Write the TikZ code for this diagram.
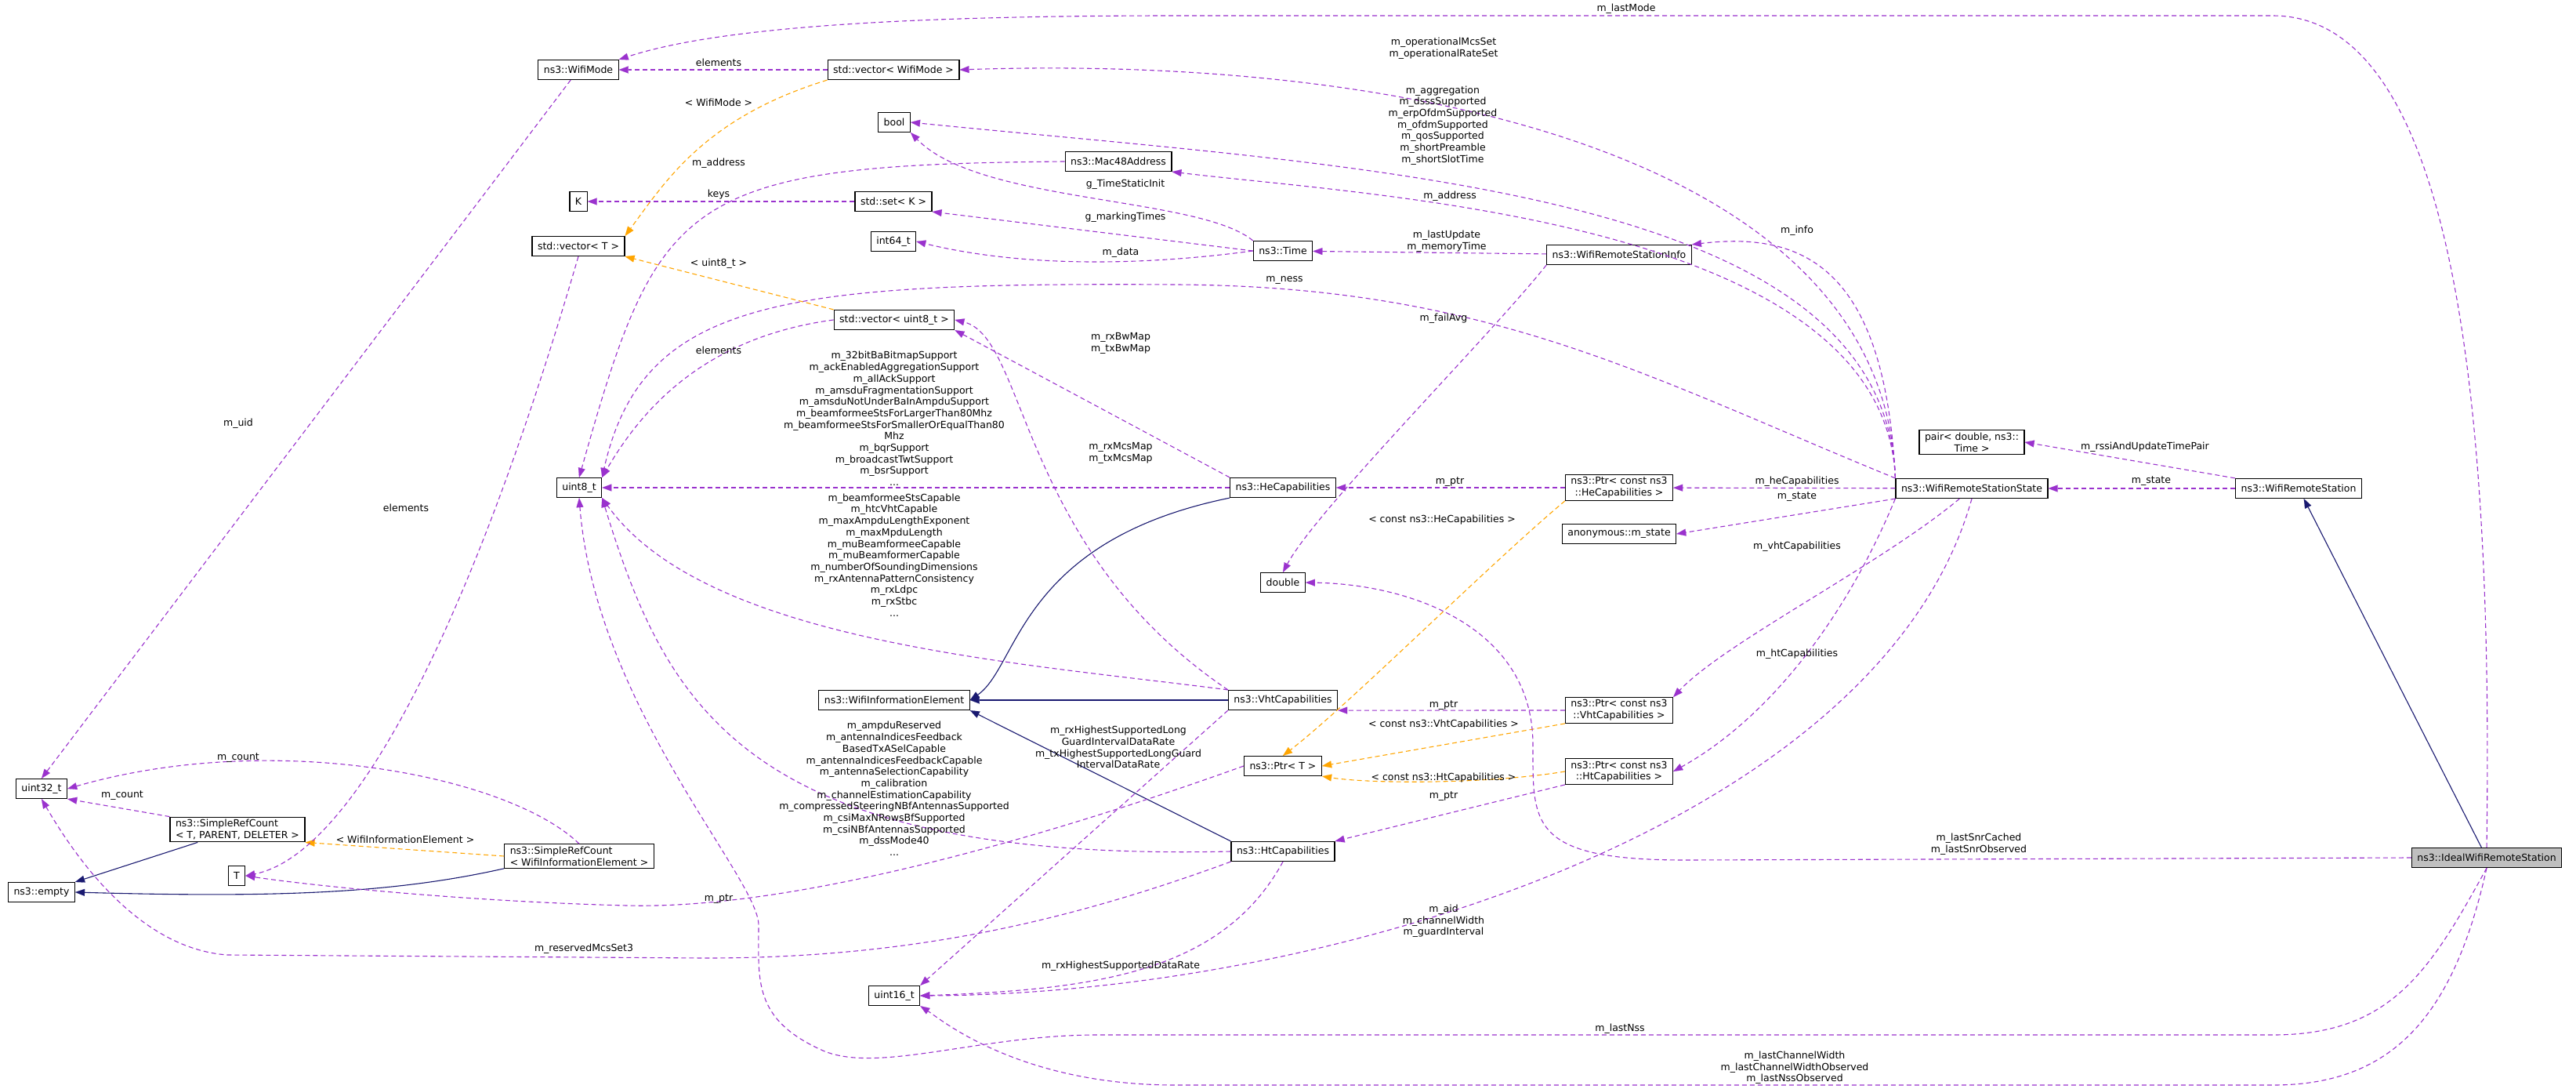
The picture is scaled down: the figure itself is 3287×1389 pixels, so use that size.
\documentclass[tikz,border=0pt]{standalone}
\usepackage{fontspec}
\setmainfont{DejaVu Sans}
\usepackage{tikz}
\usetikzlibrary{arrows.meta,positioning}
\definecolor{memberc}{HTML}{9A32CD}
\definecolor{tmplc}{HTML}{FFA500}
\definecolor{inheritc}{HTML}{191970}
\tikzstyle{cls} = [rectangle, draw, line width=1.2pt, inner xsep=7pt, inner ysep=3pt, minimum height=25pt, font=\fontsize{12.5}{14.7}\selectfont, align=center]
\tikzstyle{clsl} = [cls, align=left]
\tikzstyle{focus} = [cls, fill=black!25]
\tikzstyle{lbl} = [inner sep=0pt, font=\fontsize{12.5}{14.7}\selectfont, align=center]
\tikzstyle{member} = [draw=memberc, dashed, dash pattern=on 6pt off 4pt, line width=1.1pt, -{Stealth[length=12pt,width=9pt,inset=0pt,line width=0.1pt]}]
\tikzstyle{tmpl} = [member, draw=tmplc]
\tikzstyle{inherit} = [draw=inheritc, line width=1.1pt, -{Stealth[length=12pt,width=9pt,inset=0pt,line width=0.1pt]}]

\begin{document}
\begin{tikzpicture}[x=1pt, y=-1pt]
        \useasboundingbox (0,0) rectangle (3287,1389);
        % classes
        \node [cls] (wifimode) at (738,89) {ns3::WifiMode};
        \node [cls] (vecmode) at (1140,89) {std::vector< WifiMode >};
        \node [cls] (bool) at (1141,156) {bool};
        \node [cls] (mac) at (1427,206) {ns3::Mac48Address};
        \node [cls] (K) at (738,257) {K};
        \node [cls] (setk) at (1140,257) {std::set< K >};
        \node [cls] (vect) at (738,314) {std::vector< T >};
        \node [cls] (int64) at (1140,308) {int64\_t};
        \node [cls] (time) at (1637,320) {ns3::Time};
        \node [cls] (info) at (2066,325) {ns3::WifiRemoteStationInfo};
        \node [cls] (vecu8) at (1141,408) {std::vector< uint8\_t >};
        \node [cls] (uint8) at (739,622) {uint8\_t};
        \node [cls] (hecap) at (1637,622) {ns3::HeCapabilities};
        \node [cls] (ptrhe) at (2066,622) {ns3::Ptr< const ns3\\::HeCapabilities >};
        \node [cls] (anon) at (2066,681) {anonymous::m\_state};
        \node [cls] (state) at (2516,623) {ns3::WifiRemoteStationState};
        \node [cls] (pair) at (2516,564) {pair< double, ns3::\\Time >};
        \node [cls] (station) at (2933,623) {ns3::WifiRemoteStation};
        \node [focus] (ideal) at (3173,1094) {ns3::IdealWifiRemoteStation};
        \node [cls] (double) at (1637,743) {double};
        \node [cls] (wie) at (1141,893) {ns3::WifiInformationElement};
        \node [cls] (vhtcap) at (1637,893) {ns3::VhtCapabilities};
        \node [cls] (ptrvht) at (2066,906) {ns3::Ptr< const ns3\\::VhtCapabilities >};
        \node [cls] (ptrt) at (1637,977) {ns3::Ptr< T >};
        \node [cls] (ptrht) at (2066,984) {ns3::Ptr< const ns3\\::HtCapabilities >};
        \node [cls] (htcap) at (1637,1086) {ns3::HtCapabilities};
        \node [cls] (uint16) at (1141,1270) {uint16\_t};
        \node [cls] (uint32) at (53,1006) {uint32\_t};
        \node [clsl] (srcgen) at (303,1058) {ns3::SimpleRefCount\\< T, PARENT, DELETER >};
        \node [cls] (empty) at (53,1138) {ns3::empty};
        \node [cls] (T) at (302,1117) {T};
        \node [clsl] (srcwie) at (739,1092) {ns3::SimpleRefCount\\< WifiInformationElement >};

        % inheritance
        \path [inherit] (ideal) -- (station);
        \path [inherit] (hecap.south west) .. controls (1300,690) and (1300,850) .. (wie.east);
        \path [inherit] (vhtcap) -- (wie);
        \path [inherit] (htcap.north west) -- (wie.south east);
        \path [inherit] (srcgen) -- (empty.north east);
        \path [inherit] (srcwie.south west) .. controls (500,1140) and (350,1145) .. (empty.east);

        % templates
        \path [tmpl] (vecmode.south west) .. controls (900,150) and (850,230) .. (vect.north east);
        \path [tmpl] (vecu8.north west) -- (vect.south east);
        \path [tmpl] (ptrhe.south west) .. controls (1900,720) and (1720,900) .. (ptrt.north);
        \path [tmpl] (ptrvht.south west) -- (ptrt.east);
        \path [tmpl] (ptrht.west) .. controls (1900,1000) and (1750,1000) .. (ptrt.south east);
        \path [tmpl] (srcwie.west) -- (srcgen.south east);
        \node [lbl] (l-wifimode) at (917,131) {< WifiMode >};
        \node [lbl] (l-u8t) at (917,336) {< uint8\_t >};
        \node [lbl] (l-ptrhe) at (1840,663) {< const ns3::HeCapabilities >};
        \node [lbl] (l-ptrvht) at (1842,924) {< const ns3::VhtCapabilities >};
        \node [lbl] (l-ptrht) at (1842,992) {< const ns3::HtCapabilities >};
        \node [lbl] (l-srcwie) at (517,1071) {< WifiInformationElement >};

        % members
        \path [member] (ideal.north) .. controls (3180,600) and (3150,20) .. (2900,20) -- (1500,20) .. controls (1100,20) and (900,40) .. (wifimode.north east);
        \path [member] (state.north west) .. controls (2405,200) and (1800,70) .. (vecmode.east);
        \path [member] (vecmode) -- (wifimode);
        \path [member] (state.north west) .. controls (2405,240) and (1750,215) .. (bool.east);
        \path [member] (mac.west) .. controls (870,210) and (840,250) .. (uint8.north);
        \path [member] (state.north west) .. controls (2405,280) and (1750,250) .. (mac.south east);
        \path [member] (setk) -- (K);
        \path [member] (time.north west) .. controls (1530,250) and (1250,260) .. (bool.south east);
        \path [member] (time.west) -- (setk.south east);
        \path [member] (time.west) .. controls (1450,340) and (1300,340) .. (int64.east);
        \path [member] (info) -- (time);
        \path [member] (state.north west) .. controls (2405,340) and (2300,295) .. (info.north east);
        \path [member] (state.north west) .. controls (2100,480) and (1900,365) .. (1500,363) .. controls (1000,360) and (820,380) .. (uint8.north east);
        \path [member] (vecu8.west) .. controls (900,430) and (820,520) .. (uint8.north east);
        \path [member] (hecap.north west) -- (vecu8.south east);
        \path [member] (vhtcap.north west) .. controls (1300,700) and (1310,430) .. (vecu8.east);
        \path [member] (hecap) -- (uint8);
        \path [member] (info.south west) .. controls (1900,430) and (1680,650) .. (double.north);
        \path [member] (ptrhe) -- (hecap);
        \path [member] (state) -- (ptrhe);
        \path [member] (state.south west) -- (anon.east);
        \path [member] (station.north west) -- (pair.east);
        \path [member] (station) -- (state);
        \path [member] (vhtcap.north west) .. controls (1300,845) and (900,820) .. (uint8.south east);
        \path [member] (htcap.west) .. controls (950,1100) and (850,900) .. (uint8.south east);
        \path [member] (ptrvht.west) -- (vhtcap.south east);
        \path [member] (ptrht.south west) -- (htcap.north east);
        \path [member] (state) .. controls (2400,720) and (2200,820) .. (ptrvht.north east);
        \path [member] (state.south west) .. controls (2350,800) and (2250,920) .. (ptrht.east);
        \path [member] (vhtcap.south west) -- (uint16.north east);
        \path [member] (htcap.south) .. controls (1560,1240) and (1400,1262) .. (uint16.east);
        \path [member] (htcap.south west) .. controls (1350,1180) and (1150,1222) .. (900,1222) -- (290,1218) .. controls (180,1210) and (100,1100) .. (uint32.south);
        \path [member] (ptrt.west) .. controls (1300,1080) and (1000,1160) .. (800,1155) .. controls (600,1150) and (400,1130) .. (T.east);
        \path [member] (srcwie.north) .. controls (650,990) and (350,930) .. (uint32.east);
        \path [member] (srcgen.north west) -- (uint32.south east);
        \path [member] (wifimode) -- (uint32.north);
        \path [member] (vect.south) .. controls (600,800) and (450,1090) .. (T.east);
        \path [member] (state.south) .. controls (2400,1050) and (1700,1268) .. (uint16.east);
        \path [member] (ideal.west) -- (2150,1097) .. controls (1950,1097) and (1956,1050) .. (1956,950) .. controls (1956,800) and (1800,745) .. (double.east);
        \path [member] (ideal.south) .. controls (3100,1240) and (3050,1320) .. (2900,1320) -- (1400,1320) .. controls (1250,1320) and (1120,1370) .. (1050,1340) .. controls (960,1300) and (968,1250) .. (968,1180) .. controls (968,1120) and (760,900) .. (uint8.south);
        \path [member] (ideal.south) .. controls (3130,1300) and (3050,1384) .. (2900,1384) -- (1500,1384) .. controls (1300,1384) and (1200,1300) .. (uint16.south east);

        % member labels
        \node [lbl] (l-lastmode) at (2075,11) {m\_lastMode};
        \node [lbl] (l-opset) at (1842,62) {m\_operationalMcsSet\\m\_operationalRateSet};
        \node [lbl] (l-elmode) at (917,80) {elements};
        \node [lbl] (l-bool) at (1841,160) {m\_aggregation\\m\_dsssSupported\\m\_erpOfdmSupported\\m\_ofdmSupported\\m\_qosSupported\\m\_shortPreamble\\m\_shortSlotTime};
        \node [lbl] (l-macaddr) at (917,208) {m\_address};
        \node [lbl] (l-address) at (1850,250) {m\_address};
        \node [lbl] (l-keys) at (917,248) {keys};
        \node [lbl] (l-static) at (1436,235) {g\_TimeStaticInit};
        \node [lbl] (l-marking) at (1436,277) {g\_markingTimes};
        \node [lbl] (l-data) at (1430,322) {m\_data};
        \node [lbl] (l-update) at (1846,308) {m\_lastUpdate\\m\_memoryTime};
        \node [lbl] (l-info) at (2293,294) {m\_info};
        \node [lbl] (l-ness) at (1639,357) {m\_ness};
        \node [lbl] (l-elu8) at (917,447) {elements};
        \node [lbl] (l-bwmap) at (1430,438) {m\_rxBwMap\\m\_txBwMap};
        \node [lbl] (l-mcsmap) at (1430,578) {m\_rxMcsMap\\m\_txMcsMap};
        \node [lbl] (l-he) at (1141,534) {m\_32bitBaBitmapSupport\\m\_ackEnabledAggregationSupport\\m\_allAckSupport\\m\_amsduFragmentationSupport\\m\_amsduNotUnderBaInAmpduSupport\\m\_beamformeeStsForLargerThan80Mhz\\m\_beamformeeStsForSmallerOrEqualThan80\\Mhz\\m\_bqrSupport\\m\_broadcastTwtSupport\\m\_bsrSupport\\...};
        \node [lbl] (l-failavg) at (1842,406) {m\_failAvg};
        \node [lbl] (l-ptrhe2) at (1850,615) {m\_ptr};
        \node [lbl] (l-hecaps) at (2293,614) {m\_heCapabilities};
        \node [lbl] (l-anon) at (2293,634) {m\_state};
        \node [lbl] (l-rssi) at (2737,570) {m\_rssiAndUpdateTimePair};
        \node [lbl] (l-state) at (2745,614) {m\_state};
        \node [lbl] (l-vht) at (1141,708) {m\_beamformeeStsCapable\\m\_htcVhtCapable\\m\_maxAmpduLengthExponent\\m\_maxMpduLength\\m\_muBeamformeeCapable\\m\_muBeamformerCapable\\m\_numberOfSoundingDimensions\\m\_rxAntennaPatternConsistency\\m\_rxLdpc\\m\_rxStbc\\...};
        \node [lbl] (l-ht) at (1141,1006) {m\_ampduReserved\\m\_antennaIndicesFeedback\\BasedTxASelCapable\\m\_antennaIndicesFeedbackCapable\\m\_antennaSelectionCapability\\m\_calibration\\m\_channelEstimationCapability\\m\_compressedSteeringNBfAntennasSupported\\m\_csiMaxNRowsBfSupported\\m\_csiNBfAntennasSupported\\m\_dssMode40\\...};
        \node [lbl] (l-ptrvht2) at (1842,900) {m\_ptr};
        \node [lbl] (l-ptrht2) at (1842,1016) {m\_ptr};
        \node [lbl] (l-vhtcaps) at (2293,697) {m\_vhtCapabilities};
        \node [lbl] (l-htcaps) at (2293,834) {m\_htCapabilities};
        \node [lbl] (l-longgi) at (1427,953) {m\_rxHighestSupportedLong\\GuardIntervalDataRate\\m\_txHighestSupportedLongGuard\\IntervalDataRate};
        \node [lbl] (l-rxrate) at (1430,1232) {m\_rxHighestSupportedDataRate};
        \node [lbl] (l-reserved) at (745,1210) {m\_reservedMcsSet3};
        \node [lbl] (l-ptrt) at (917,1147) {m\_ptr};
        \node [lbl] (l-count) at (304,967) {m\_count};
        \node [lbl] (l-count2) at (156,1015) {m\_count};
        \node [lbl] (l-uid) at (304,540) {m\_uid};
        \node [lbl] (l-elt) at (518,648) {elements};
        \node [lbl] (l-aid) at (1842,1175) {m\_aid\\m\_channelWidth\\m\_guardInterval};
        \node [lbl] (l-snr) at (2525,1077) {m\_lastSnrCached\\m\_lastSnrObserved};
        \node [lbl] (l-nss) at (2067,1312) {m\_lastNss};
        \node [lbl] (l-chw) at (2290,1362) {m\_lastChannelWidth\\m\_lastChannelWidthObserved\\m\_lastNssObserved};
      \end{tikzpicture}
\end{document}
